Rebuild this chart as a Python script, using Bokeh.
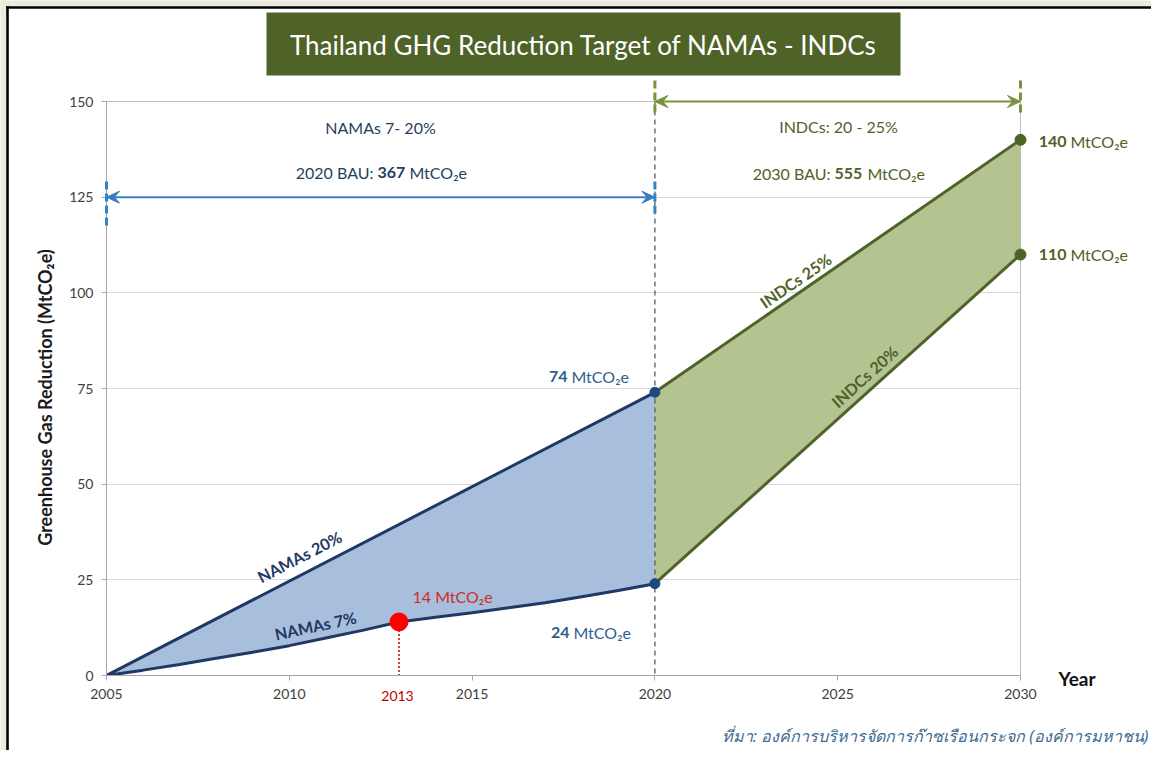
from bokeh.plotting import figure
from bokeh.models import Range1d, FixedTicker, Span
from bokeh.core.properties import value
from bokeh.embed import file_html
from bokeh.resources import INLINE

# ---------------- data ----------------
namas7_years = [2005, 2006, 2007, 2008, 2009, 2010, 2011, 2012, 2013,
                2014, 2015, 2016, 2017, 2018, 2019, 2020]
namas7_values = [0.0, 1.4, 2.9, 4.5, 6.1, 7.8, 9.8, 11.8, 14.0,
                 15.2, 16.4, 17.7, 19.0, 20.6, 22.2, 24.0]
namas20_years = [2005, 2020]
namas20_values = [0, 74]
indc_years = [2020, 2030]
indc25_values = [74, 140]
indc20_values = [24, 110]
point_year = 2013
point_value = 14
bau_2020 = 367
bau_2030 = 555
namas_range = "NAMAs 7- 20%"
indc_range = "INDCs: 20 - 25%"
x_ticks = [2005, 2010, 2015, 2020, 2025, 2030]
y_ticks = [0, 25, 50, 75, 100, 125, 150]

# ---------------- geometry helpers (canvas pixels -> data) ----------------
W, H = 1151, 750
PL, PT, PR, PB = 106, 101, 1020, 675   # frame in canvas pixels
X0, X1, Y0, Y1 = 2005, 2030, 0, 150
SX = (PR - PL) / (X1 - X0)
SY = (PB - PT) / (Y1 - Y0)


def X(px):
    return X0 + (px - PL) / SX


def Y(py):
    return Y0 + (PB - py) / SY


def PXX(x):
    return PL + (x - X0) * SX


def PXY(y):
    return PB - (y - Y0) * SY


FONT = "Lato"
NAVY = "#1f3864"
OLIVE = "#4f6228"
STEEL = "#2f5f8f"
RED = "#d12a2a"
TXT_NAVY = "#243f60"

p = figure(width=W, height=H, x_range=Range1d(X0, X1), y_range=Range1d(Y0, Y1),
           output_backend="svg", toolbar_location=None,
           min_border_left=PL, min_border_top=PT,
           min_border_right=W - PR, min_border_bottom=H - PB)
p.background_fill_color = "white"
p.border_fill_color = "white"
p.outline_line_color = "#bfbfbf"
p.outline_line_width = 1

# axes
p.xaxis.ticker = FixedTicker(ticks=x_ticks)
p.yaxis.ticker = FixedTicker(ticks=y_ticks)
for ax in (p.xaxis[0], p.yaxis[0]):
    ax.axis_line_color = "#a6a6a6"
    ax.major_tick_line_color = "#a6a6a6"
    ax.minor_tick_line_color = None
    ax.major_tick_in = 0
    ax.major_tick_out = 5
    ax.major_label_text_font = FONT
    ax.major_label_text_font_size = "14px"
    ax.major_label_text_color = "#404040"
    ax.major_label_standoff = 8
p.xgrid.grid_line_color = None
p.ygrid.grid_line_color = "#d9d9d9"

# 2020 divider
p.add_layout(Span(location=2020, dimension="height", line_color="#595959",
                  line_dash="5 4", line_width=1.3))

# areas
p.patch(x=namas20_years + namas7_years[::-1], y=namas20_values + namas7_values[::-1],
        fill_color="#a7bfdd", line_color=None)
p.patch(x=indc_years + indc_years[::-1], y=indc25_values + indc20_values[::-1],
        fill_color="#b4c491", line_color=None)

# lines
p.line(namas20_years, namas20_values, line_color=NAVY, line_width=3)
p.line(namas7_years, namas7_values, line_color=NAVY, line_width=3)
p.line(indc_years, indc25_values, line_color=OLIVE, line_width=3)
p.line(indc_years, indc20_values, line_color=OLIVE, line_width=3)

# 2013 marker
p.segment(x0=[point_year], y0=[point_value], x1=[point_year], y1=[0],
          line_color="#c00000", line_dash="2 2", line_width=1.5)
p.scatter([point_year], [point_value], size=18, color="#ff0000")

# end markers
p.scatter([namas20_years[-1], namas7_years[-1]], [namas20_values[-1], namas7_values[-1]],
          size=10, color="#1f497d", level="overlay")
p.scatter([indc_years[-1], indc_years[-1]], [indc25_values[-1], indc20_values[-1]],
          size=11, color=OLIVE, level="overlay")


# range arrows (drawn as glyphs on the overlay level so they are not clipped)
def vee(tip_x, tip_y, direction, color, L=13, Wd=12):
    tx, ty = PXX(tip_x), PXY(tip_y)
    d = direction  # +1 head pointing right, -1 pointing left
    xs = [tx, tx - d * L, tx - d * L * 0.6, tx - d * L]
    ys = [ty, ty - Wd / 2, ty, ty + Wd / 2]
    p.patch(x=[X(v) for v in xs], y=[Y(v) for v in ys], fill_color=color,
            line_color=color, line_width=1, level="overlay")


def hline_arrow(xa, xb, yv, color):
    p.segment(x0=[xa], y0=[yv], x1=[xb], y1=[yv], line_color=color, line_width=2,
              level="overlay")
    vee(xa, yv, -1, color)
    vee(xb, yv, 1, color)


BLUE_ARROW = "#3a7cc0"
GREEN_ARROW = "#77933c"
hline_arrow(namas20_years[0], namas20_years[-1], 125, BLUE_ARROW)
hline_arrow(indc_years[0], indc_years[-1], 150, GREEN_ARROW)
for xx, top, bot, col in [(namas20_years[0], 181, 229, "#2e86c8"),
                          (namas20_years[-1], 181, 214, "#2e86c8"),
                          (indc_years[0], 80, 113, GREEN_ARROW),
                          (indc_years[-1], 80, 113, GREEN_ARROW)]:
    p.segment(x0=[xx], y0=[Y(top)], x1=[xx], y1=[Y(bot)], line_color=col,
              line_width=3, line_dash="8 4", level="overlay")


def txt(text, px, py, size=16, color="#000000", bold=False, italic=False,
        align="left", angle=0, font=FONT):
    style = "bold italic" if (bold and italic) else ("bold" if bold else ("italic" if italic else "normal"))
    p.text(x=[X(px)], y=[Y(py)], text=[text], text_font=value(font),
           text_font_size=value(f"{size}px"), text_color=value(color),
           text_align=value(align), text_baseline=value("middle"),
           text_font_style=value(style), angle=angle, angle_units="deg",
           level="overlay")


UNIT = "MtCO\u2082e"

# picture frame (beige surround + black rule at left and top)
p.quad(left=[X(0)], right=[X(5.7)], top=[Y(0)], bottom=[Y(H)],
       fill_color="#ece9df", line_color=None, level="overlay")
p.quad(left=[X(0)], right=[X(W)], top=[Y(0)], bottom=[Y(5.7)],
       fill_color="#ece9df", line_color=None, level="overlay")
p.segment(x0=[X(7)], y0=[Y(5.7)], x1=[X(7)], y1=[Y(H)], line_color="black",
          line_width=2.6, level="overlay")
p.segment(x0=[X(5.7)], y0=[Y(7)], x1=[X(W)], y1=[Y(7)], line_color="black",
          line_width=2.6, level="overlay")

# title box
p.quad(left=[X(266)], right=[X(900)], top=[Y(12)], bottom=[Y(75)],
       fill_color="#4f6228", line_color=None, level="overlay")
txt("Thailand GHG Reduction Target of NAMAs - INDCs", 583, 44, size=26,
    color="#ffffff", align="center")

# header texts
txt(namas_range, 380, 127, color=TXT_NAVY, align="center")
txt("2020 BAU:", 373, 172, color=TXT_NAVY, align="right")
txt(str(bau_2020), 377, 172, color=TXT_NAVY, bold=True)
txt(UNIT, 409, 172, color=TXT_NAVY)
txt(indc_range, 838, 126, color=OLIVE, align="center")
txt("2030 BAU:", 830, 173, color=OLIVE, align="right")
txt(str(bau_2030), 834, 173, color=OLIVE, bold=True)
txt(UNIT, 867, 173, color=OLIVE)

# value labels
txt(str(indc25_values[-1]), 1066, 141, color=OLIVE, bold=True, align="right")
txt(UNIT, 1070, 141, color=OLIVE)
txt(str(indc20_values[-1]), 1066, 254, color=OLIVE, bold=True, align="right")
txt(UNIT, 1070, 254, color=OLIVE)
txt(str(namas20_values[-1]), 567, 376, color=STEEL, bold=True, align="right")
txt(UNIT, 571, 376, color=STEEL)
txt(f"{namas7_values[-1]:g}", 569, 632, color=STEEL, bold=True, align="right")
txt(UNIT, 573, 632, color=STEEL)
txt(f"{point_value} {UNIT}", 412, 596, color=RED)
txt(str(point_year), 397, 695, size=14, color="#c00000", align="center")

# line labels
txt("NAMAs 20%", 299, 556, color=NAVY, bold=True, align="center", angle=27.3)
txt("NAMAs 7%", 315, 625, color=NAVY, bold=True, align="center", angle=12)
txt("INDCs 25%", 795, 280, color=OLIVE, bold=True, align="center", angle=34.5)
txt("INDCs 20%", 864, 376, color=OLIVE, bold=True, align="center", angle=42)

# axis titles
txt("Greenhouse Gas Reduction (" + UNIT + ")", 44, 397, size=18, color="#1a1a1a",
    bold=True, align="center", angle=90)
txt("Year", 1058, 678, size=19, color="#111111", bold=True)

# source
txt("ที่มา: องค์การบริหารจัดการก๊าซเรือนกระจก (องค์การมหาชน)", 1148, 735, size=16,
    color="#3d6a8f", italic=True, align="right", font="Noto Sans")

open("out.html", "w").write(file_html(p, INLINE))
